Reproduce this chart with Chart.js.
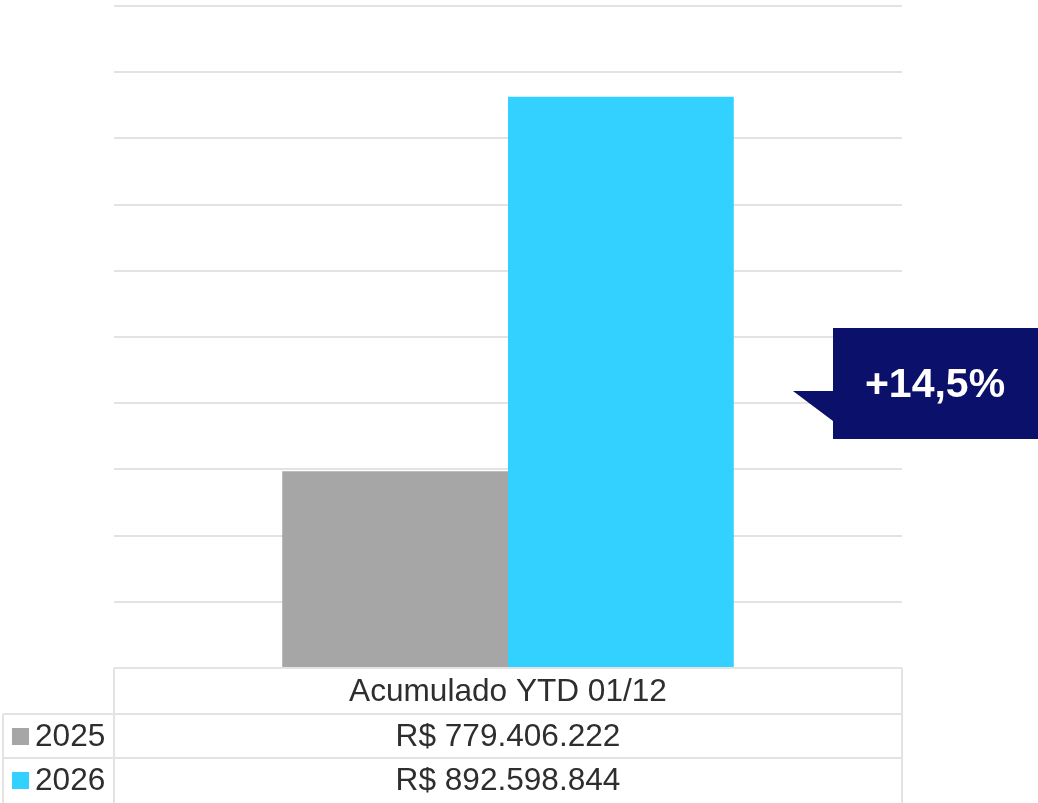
<!DOCTYPE html>
<html lang="pt-BR">
<head>
<meta charset="utf-8">
<title>Acumulado YTD</title>
<script src="https://cdn.jsdelivr.net/npm/chart.js@4/dist/chart.umd.min.js"></script>
<style>
  html, body { margin: 0; padding: 0; background: #ffffff; }
  canvas { display: block; }
</style>
</head>
<body>
<canvas id="acumuladoChart" width="1038" height="803"></canvas>
<script>
// Dados do grafico
var categorias = ['Acumulado YTD 01/12'];
var anos = ['2025', '2026'];
var valores2025 = [779406222];
var valores2026 = [892598844];
var variacao = '+14,5%';

// Eixo y (sem rotulos, so as linhas de grade)
var yMin = 720000000;
var yMax = 920000000;
var yPasso = 20000000;

var cores = ['#a6a6a6', '#33d1ff'];
var corLinha = '#e3e3e3';
var corTexto = '#2e2e2e';
var fonteTabela = '31.6px "Liberation Sans", Arial, sans-serif';

// Formata 779406222 -> R$ 779.406.222
function formatReal(v) {
    return 'R$ ' + String(v).replace(/\B(?=(\d{3})+(?!\d))/g, '.');
}

// Desenha a tabela de dados abaixo do grafico
var tabelaPlugin = {
    id: 'tabelaDados',
    afterDraw: function (chart) {
        var ctx = chart.ctx;
        var area = chart.chartArea;
        var xMeio = chart.scales.x.getPixelForValue(0);
        var topo = area.bottom;
        var linha1 = topo + 46;
        var linha2 = linha1 + 44;
        var fim = chart.height;
        var esquerda = 3;

        ctx.save();
        ctx.strokeStyle = corLinha;
        ctx.lineWidth = 2;
        ctx.beginPath();
        // horizontais
        ctx.moveTo(area.left, topo); ctx.lineTo(area.right, topo);
        ctx.moveTo(esquerda, linha1); ctx.lineTo(area.right, linha1);
        ctx.moveTo(esquerda, linha2); ctx.lineTo(area.right, linha2);
        // verticais
        ctx.moveTo(area.left, topo); ctx.lineTo(area.left, fim);
        ctx.moveTo(area.right, topo); ctx.lineTo(area.right, fim);
        ctx.moveTo(esquerda, linha1); ctx.lineTo(esquerda, fim);
        ctx.stroke();

        ctx.font = fonteTabela;
        ctx.fillStyle = corTexto;
        ctx.textBaseline = 'middle';
        ctx.textAlign = 'center';
        ctx.fillText(categorias[0], xMeio, (topo + linha1) / 2 + 1);

        var linhas = [linha1, linha2];
        chart.data.datasets.forEach(function (ds, i) {
            var yCentro = linhas[i] + 23;
            // legenda
            ctx.fillStyle = ds.backgroundColor;
            ctx.fillRect(12, yCentro - 9, 17, 17);
            ctx.fillStyle = corTexto;
            ctx.textAlign = 'left';
            ctx.fillText(ds.label, 35, yCentro);
            ctx.textAlign = 'center';
            ctx.fillText(formatReal(ds.data[0]), xMeio, yCentro);
        });
        ctx.restore();
    }
};

// Caixa com a variacao (+14,5%)
var caixaPlugin = {
    id: 'caixaVariacao',
    afterDraw: function (chart) {
        var ctx = chart.ctx;
        var x0 = 833, y0 = 328, x1 = chart.width, y1 = 439;
        ctx.save();
        ctx.fillStyle = '#0b106b';
        ctx.beginPath();
        ctx.moveTo(x0, y0);
        ctx.lineTo(x1, y0);
        ctx.lineTo(x1, y1);
        ctx.lineTo(x0, y1);
        ctx.lineTo(x0, 421);
        ctx.lineTo(793, 391);
        ctx.lineTo(x0, 391);
        ctx.closePath();
        ctx.fill();
        ctx.fillStyle = '#ffffff';
        ctx.font = 'bold 41px "Liberation Sans", Arial, sans-serif';
        ctx.textAlign = 'center';
        ctx.textBaseline = 'middle';
        ctx.fillText(variacao, 935, 386);
        ctx.restore();
    }
};

var ctx = document.getElementById('acumuladoChart').getContext('2d');
var chart = new Chart(ctx, {
    type: 'bar',
    data: {
        labels: categorias,
        datasets: [{
            label: anos[0],
            backgroundColor: cores[0],
            data: valores2025
        }, {
            label: anos[1],
            backgroundColor: cores[1],
            data: valores2026
        }]
    },
    options: {
        responsive: false,
        animation: false,
        layout: {
            padding: { left: 114, right: 136, top: 6, bottom: 135 }
        },
        datasets: {
            bar: {
                categoryPercentage: 0.573,
                barPercentage: 1,
                borderWidth: 0
            }
        },
        scales: {
            x: {
                display: false
            },
            y: {
                min: yMin,
                max: yMax,
                border: { display: false },
                ticks: { display: false, stepSize: yPasso },
                grid: { color: corLinha, lineWidth: 2, drawTicks: false, tickLength: 0 }
            }
        },
        plugins: {
            legend: { display: false },
            tooltip: { enabled: false }
        }
    },
    plugins: [tabelaPlugin, caixaPlugin]
});
</script>
</body>
</html>
